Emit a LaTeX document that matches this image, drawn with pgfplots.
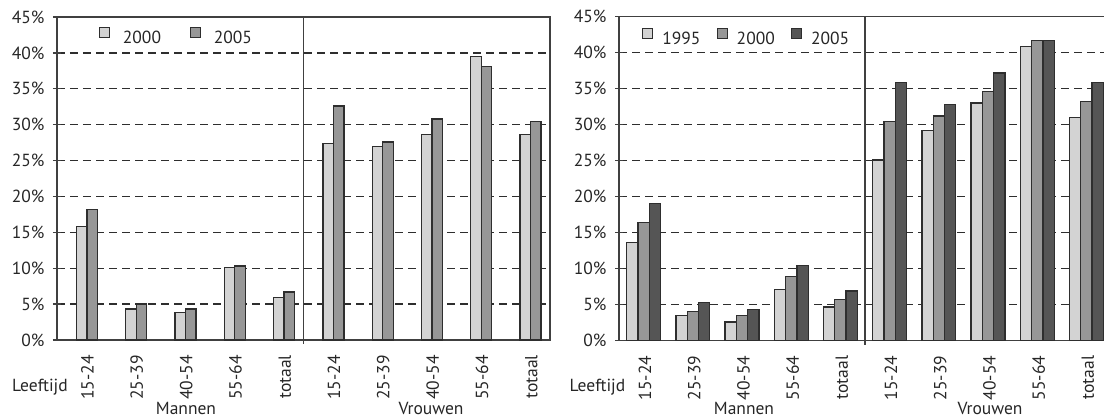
\documentclass[border=0pt]{standalone}
\usepackage{fontspec}
\setmainfont{PT Sans}
\usepackage{pgfplots}
\pgfplotsset{compat=1.18}
\definecolor{cLight}{HTML}{D3D3D3}
\definecolor{cMid}{HTML}{979797}
\definecolor{cDark}{HTML}{555555}
\definecolor{cEdge}{HTML}{2E2E2E}
\definecolor{cAxis}{HTML}{404040}
\newcommand{\fnt}{\fontsize{17.5}{21}\selectfont}
\pgfplotsset{
  sq legend/.style={legend image code/.code={\draw[##1, line width=1.2pt, solid] (0pt,0.5pt) rectangle (10pt,10.5pt);}},
  mystyle/.style={
    scale only axis,
    anchor=south west,
    ymin=0, ymax=45,
    xmin=-0.5, xmax=9.5,
    ytick={0,5,...,45},
    yticklabels={0\%,5\%,10\%,15\%,20\%,25\%,30\%,35\%,40\%,45\%},
    ytick pos=left,
    xtick pos=bottom,
    xtick style={draw=none},
    ymajorgrids,
    grid style={cEdge, line width=1.4pt, dash pattern=on 8pt off 5pt},
    major tick length=8pt,
    tick align=center,
    ytick style={cAxis, line width=1.3pt},
    axis line style={cAxis, line width=1.4pt},
    every tick label/.append style={font=\fnt, text=black!85},
    yticklabel style={xshift=-5pt},
    xticklabels={15-24,25-39,40-54,55-64,totaal,15-24,25-39,40-54,55-64,totaal},
    xticklabel style={yshift=-7pt, rotate=90, anchor=east, inner sep=0pt},
    ybar,
    legend style={draw=none, fill=none, inner sep=0pt, font=\fnt, text=black!85,
      nodes={inner sep=0pt}},
    legend columns=-1,
    clip=false,
  },
}
\begin{document}
\begin{tikzpicture}[font=\fnt]
\useasboundingbox (0,0) rectangle (1104pt,418pt);
\clip (0,0) rectangle (1104pt,418pt);
% ---------------- left chart ----------------
\begin{axis}[mystyle,
  at={(57pt,78pt)}, width=493pt, height=323pt,
  bar width=10.5pt,
  xtick={0.12,1.12,2.12,3.12,4.12,5.12,6.12,7.12,8.12,9.12},
  legend style={at={(0.0852,0.942)}, anchor=west,
    /tikz/every odd column/.append style={column sep=12.5pt},
    /tikz/every even column/.append style={column sep=29pt}},
]
\addplot[fill=cLight, draw=cEdge, line width=1.3pt, bar shift=0pt, sq legend] coordinates {
(0,15.8) (1,4.3) (2,3.85) (3,10.1) (4,5.9) (5,27.4) (6,27.0) (7,28.6) (8,39.5) (9,28.6)};
\addlegendentry{2000}
\addplot[fill=cMid, draw=cEdge, line width=1.3pt, bar shift=10.5pt, sq legend] coordinates {
(0,18.2) (1,5.0) (2,4.3) (3,10.3) (4,6.7) (5,32.6) (6,27.6) (7,30.8) (8,38.1) (9,30.4)};
\addlegendentry{2005}
\draw[cAxis, line width=1.4pt] (axis cs:4.5,45) -- ([yshift=-4pt]axis cs:4.5,0);
\end{axis}
% ---------------- right chart ----------------
\begin{axis}[mystyle,
  at={(619pt,77.3pt)}, width=492pt, height=324pt,
  bar width=11.3pt,
  xtick={0.03,1.03,2.03,3.03,4.03,5.03,6.03,7.03,8.03,9.03},
  legend style={at={(0.0467,0.938)}, anchor=west,
    /tikz/every odd column/.append style={column sep=9pt},
    /tikz/every even column/.append style={column sep=16pt}},
]
\addplot[fill=cLight, draw=cEdge, line width=1.3pt, bar shift=-11.3pt, sq legend] coordinates {
(0,13.6) (1,3.5) (2,2.6) (3,7.1) (4,4.7) (5,25.1) (6,29.2) (7,33.0) (8,40.9) (9,31.0)};
\addlegendentry{1995}
\addplot[fill=cMid, draw=cEdge, line width=1.3pt, bar shift=0pt, sq legend] coordinates {
(0,16.4) (1,4.1) (2,3.5) (3,8.9) (4,5.75) (5,30.4) (6,31.2) (7,34.6) (8,41.7) (9,33.2)};
\addlegendentry{2000}
\addplot[fill=cDark, draw=cEdge, line width=1.3pt, bar shift=11.3pt, sq legend] coordinates {
(0,19.1) (1,5.3) (2,4.3) (3,10.4) (4,6.9) (5,35.9) (6,32.8) (7,37.2) (8,41.7) (9,35.9)};
\addlegendentry{2005}
\draw[cAxis, line width=1.4pt] (axis cs:4.5,45) -- ([yshift=-4pt]axis cs:4.5,0);
\end{axis}
% ---------------- group labels ----------------
\node[anchor=base, text=black!85] at (40pt,27pt) {Leeftijd};
\node[anchor=base, text=black!85] at (186pt,3pt) {Mannen};
\node[anchor=base, text=black!85] at (431pt,3pt) {Vrouwen};
\node[anchor=base, text=black!85] at (597.5pt,27pt) {Leeftijd};
\node[anchor=base, text=black!85] at (744pt,3pt) {Mannen};
\node[anchor=base, text=black!85] at (990pt,3pt) {Vrouwen};
\end{tikzpicture}
\end{document}
